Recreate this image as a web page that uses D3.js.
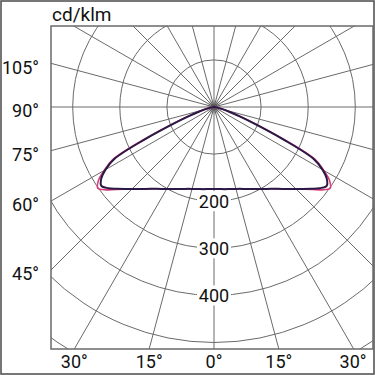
<!DOCTYPE html>
<html>
<head>
<meta charset="utf-8">
<script src="https://cdn.jsdelivr.net/npm/d3@7"></script>
<style>
  html, body { margin: 0; padding: 0; background: #fff; }
  svg { display: block; }
  text { font-family: "Liberation Sans Narrow", "Roboto", "Liberation Sans", sans-serif; fill: #111; }
</style>
</head>
<body>
<svg id="chart" width="375" height="375"></svg>
<script>
// gamma angles (deg from nadir) and intensities in cd/klm
const gammas = [0, 5, 10, 15, 20, 25, 30, 35, 40, 45, 50, 52.5, 55, 57.5, 60, 62.5, 65, 67.5, 70, 72.5, 75, 80, 85, 90];
const planeC0 = [174, 175, 177, 180, 185, 192, 201, 212, 227, 246, 270, 283, 292, 284, 266, 238, 160, 95, 58, 35, 22, 8, 3, 0];
const planeC90 = [174, 175, 177, 180, 185, 192, 201, 212, 227, 246, 272, 289, 301, 291, 269, 243, 168, 102, 63, 38, 24, 9, 3, 0];

const ringValues = [100, 200, 300, 400, 500, 600, 700];
const ringLabels = [200, 300, 400];
const spokeAngles = d3.range(0, 360, 15);
const sideLabels = [105, 90, 75, 60, 45];
const bottomLabels = [-30, -15, 0, 15, 30];
const unitLabel = 'cd/klm';

const svg = d3.select('#chart');
const frame = { left: 51, top: 26, right: 373, bottom: 349 };
const cx = 214, cy = 107;

const r = d3.scaleLinear().domain([0, 100]).range([0, 47.1]);

// outer border
svg.append('rect')
  .attr('x', 1).attr('y', 1).attr('width', 373).attr('height', 373)
  .attr('fill', 'none').attr('stroke', '#555').attr('stroke-width', 1.6);

const defs = svg.append('defs');
defs.append('clipPath').attr('id', 'plotClip')
  .append('rect')
  .attr('x', frame.left).attr('y', frame.top)
  .attr('width', frame.right - frame.left).attr('height', frame.bottom - frame.top);

const blur = defs.append('radialGradient').attr('id', 'hub');
blur.append('stop').attr('offset', '0%').attr('stop-color', '#444').attr('stop-opacity', 0.7);
blur.append('stop').attr('offset', '100%').attr('stop-color', '#444').attr('stop-opacity', 0);

const plot = svg.append('g').attr('clip-path', 'url(#plotClip)');
const g = plot.append('g').attr('transform', `translate(${cx},${cy})`);

// rings
g.selectAll('.ring')
  .data(ringValues)
  .enter().append('circle')
  .attr('class', 'ring')
  .attr('r', d => r(d))
  .attr('fill', 'none')
  .attr('stroke', '#6a6a6a')
  .attr('stroke-width', 1);

// spokes
g.selectAll('.spoke')
  .data(spokeAngles)
  .enter().append('line')
  .attr('class', 'spoke')
  .attr('x1', 0).attr('y1', 0)
  .attr('x2', d => 450 * Math.sin(d * Math.PI / 180))
  .attr('y2', d => 450 * Math.cos(d * Math.PI / 180))
  .attr('stroke', '#6a6a6a')
  .attr('stroke-width', 1);

g.append('circle').attr('r', 8).attr('fill', 'url(#hub)');

// curves (left half mirrored, then right half)
function curvePoints(values) {
  const pts = [];
  for (let i = gammas.length - 1; i >= 0; i--) pts.push([Math.PI + gammas[i] * Math.PI / 180, r(values[i])]);
  for (let i = 1; i < gammas.length; i++) pts.push([Math.PI - gammas[i] * Math.PI / 180, r(values[i])]);
  return pts;
}

const line = d3.lineRadial()
  .angle(d => d[0])
  .radius(d => d[1])
  .curve(d3.curveCatmullRom.alpha(0.5));

g.append('path')
  .attr('d', line(curvePoints(planeC90)))
  .attr('fill', 'none')
  .attr('stroke', '#d9407a')
  .attr('stroke-width', 1.6);

g.append('path')
  .attr('d', line(curvePoints(planeC0)))
  .attr('fill', 'none')
  .attr('stroke', '#2a1846')
  .attr('stroke-width', 2);

// ring labels with white background
const lbl = g.selectAll('.ring-label')
  .data(ringLabels)
  .enter().append('g')
  .attr('class', 'ring-label')
  .attr('transform', d => `translate(0,${r(d)})`);

lbl.append('rect')
  .attr('x', -17).attr('y', -10).attr('width', 34).attr('height', 20)
  .attr('fill', '#fff');

lbl.append('text')
  .attr('text-anchor', 'middle')
  .attr('dy', '0.35em')
  .style('font-size', '18px')
  .text(d => d);

// plot frame
svg.append('rect')
  .attr('x', frame.left).attr('y', frame.top)
  .attr('width', frame.right - frame.left).attr('height', frame.bottom - frame.top)
  .attr('fill', 'none').attr('stroke', '#6a6a6a').attr('stroke-width', 1.5);

// unit label
svg.append('text')
  .attr('x', frame.left + 1).attr('y', 21)
  .style('font-size', '19px')
  .text(unitLabel);

// left angle labels where spokes meet the left edge
const dxLeft = cx - frame.left;
svg.selectAll('.side-label')
  .data(sideLabels)
  .enter().append('text')
  .attr('class', 'side-label')
  .attr('x', 39)
  .attr('y', d => cy + dxLeft * Math.tan((90 - d) * Math.PI / 180) + 4)
  .attr('text-anchor', 'end')
  .attr('dy', '0.35em')
  .style('font-size', '18px')
  .text(d => d + '°');

// bottom angle labels where spokes meet the bottom edge
const dyBottom = frame.bottom - cy;
svg.selectAll('.bottom-label')
  .data(bottomLabels)
  .enter().append('text')
  .attr('class', 'bottom-label')
  .attr('x', d => Math.max(frame.left + 15, Math.min(frame.right - 20, cx + dyBottom * Math.tan(d * Math.PI / 180))))
  .attr('y', 368)
  .attr('text-anchor', 'middle')
  .style('font-size', '18px')
  .text(d => Math.abs(d) + '°');
</script>
</body>
</html>
